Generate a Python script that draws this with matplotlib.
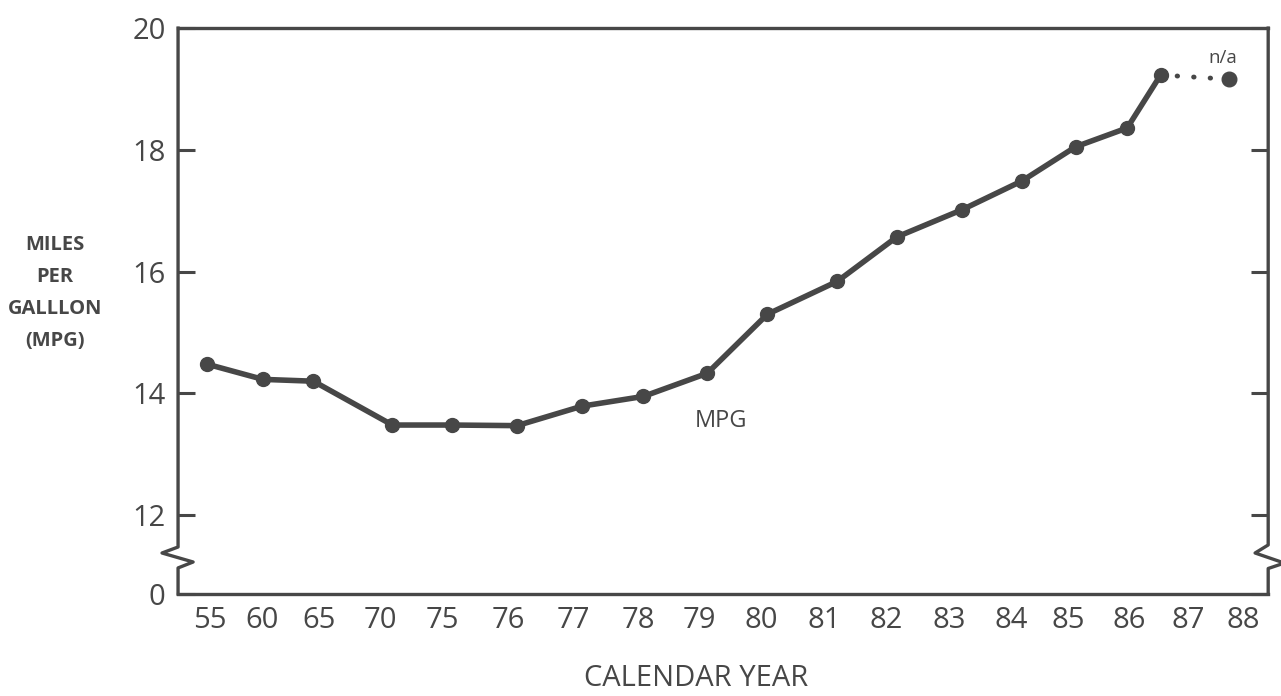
import matplotlib
matplotlib.use('Agg')
import matplotlib.pyplot as plt

# tick labels and where they sit along the axis
year_labels = ['55', '60', '65', '70', '75', '76', '77', '78', '79', '80',
               '81', '82', '83', '84', '85', '86', '87', '88']
tick_pos = [0, 0.86, 1.79, 2.80, 3.83, 4.90, 5.97, 7.04, 8.05, 9.07,
            10.10, 11.12, 12.16, 13.18, 14.12, 15.12, 16.10, 17.0]

# MPG points
mpg_x = [-0.05, 0.87, 1.70, 3.0, 3.98, 5.05, 6.12, 7.13, 8.18, 9.17,
         10.32, 11.30, 12.38, 13.36, 14.24, 15.09, 15.64]
mpg_y = [14.48, 14.23, 14.20, 13.48, 13.48, 13.47, 13.79, 13.95, 14.33, 15.30,
         15.84, 16.57, 17.02, 17.49, 18.05, 18.36, 19.23]
na_x = 16.77
na_y = 19.16

col = '#474747'
plt.rcParams['font.family'] = ['Open Sans', 'DejaVu Sans']

fig = plt.figure(figsize=(12.81, 6.96), dpi=100)
ax = fig.add_axes([0.139, 0.1466, 0.851, 0.813])

ax.plot(mpg_x, mpg_y, color=col, lw=4, marker='o', ms=10, solid_joinstyle='round')
ax.plot([mpg_x[-1], na_x], [mpg_y[-1], na_y], color=col, lw=3.5, ls=(0, (0.1, 3.3)),
        dash_capstyle='round')
ax.plot([na_x], [na_y], 'o', color=col, ms=10.5)
ax.text(na_x - 0.1, na_y + 0.27, 'n/a', color=col, fontsize=13.5, ha='center')
ax.text(8.4, 13.55, 'MPG', color=col, fontsize=17, ha='center', va='center')

y_zero = 10.705  # where the broken axis puts the 0
ax.set_ylim(y_zero, 20)
ax.set_xlim(-0.527, 17.41)
ax.set_yticks([y_zero, 12, 14, 16, 18, 20])
ax.set_yticklabels(['0', '12', '14', '16', '18', '20'])
ax.set_xticks(tick_pos)
ax.set_xticklabels(year_labels)

ax.tick_params(axis='y', direction='in', length=12, width=2.2, color=col,
               right=True, labelsize=21, labelcolor=col, pad=9)
ax.tick_params(axis='x', length=0, labelsize=21, labelcolor=col, pad=9)

for s in ['top', 'bottom']:
    ax.spines[s].set_color(col)
    ax.spines[s].set_linewidth(2.4)
ax.spines['left'].set_visible(False)
ax.spines['right'].set_visible(False)

# left and right spines with the zigzag break
ax.plot([0, 0, -0.0147, 0.0138, 0, 0], [1, 0.083, 0.0724, 0.0565, 0.046, 0],
        transform=ax.transAxes, color=col, lw=2.4, clip_on=False)
ax.plot([1, 1, 0.988, 1.012], [1, 0.0866, 0.0724, 0.0565],
        transform=ax.transAxes, color=col, lw=2.4, clip_on=False)
ax.plot([1.02, 1, 1], [0.058, 0.045, 0],
        transform=ax.transAxes, color=col, lw=2.4, clip_on=False)

fig.text(55 / 1281, 1 - 293 / 696, 'MILES\nPER\nGALLLON\n(MPG)', ha='center', va='center',
         fontsize=14.5, fontweight='bold', color=col, linespacing=1.8)
fig.text(696 / 1281, 1 - 679 / 696, 'CALENDAR YEAR', ha='center', va='center',
         fontsize=21, color=col)

fig.savefig('out.png', dpi=100, facecolor='white')
